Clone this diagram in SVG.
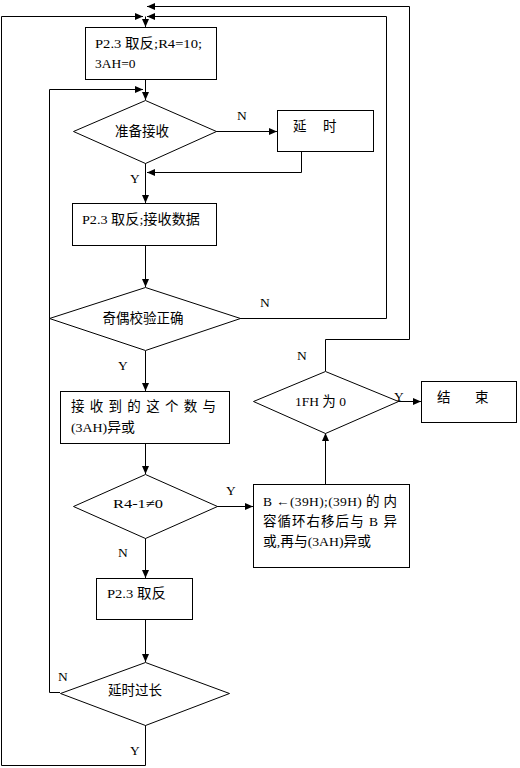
<svg xmlns="http://www.w3.org/2000/svg" width="520" height="768" viewBox="0 0 520 768">
<defs>
<marker id="ah" markerUnits="userSpaceOnUse" markerWidth="8" markerHeight="8" refX="8" refY="4" orient="auto">
<path d="M0,0.5 L8,4 L0,7.5 z" fill="#000"/>
</marker>
<style>
.n{fill:#fff;stroke:#000;stroke-width:1}
.c{fill:none;stroke:#000;stroke-width:1;marker-end:url(#ah)}
.t{font-family:"Liberation Serif","Noto Sans CJK SC",serif;font-size:13.5px;fill:#000}
.l{font-family:"Liberation Serif",serif;font-size:13.5px;fill:#000}
</style>
</defs>
<rect width="520" height="768" fill="#fff"/>
<g id="connectors">
<path class="c" d="M325.5,371 V339.5 H409.5 V6.5 H147"/>
<path class="c" d="M240,318.5 H386.5 V16.5 H147"/>
<path class="c" d="M145.5,725 V765.5 H1.5 V16.5 H143"/>
<path class="c" d="M145.5,16.5 V27"/>
<path class="c" d="M145.5,79 V100"/>
<path class="c" d="M60,692.5 H49.5 V89.5 H143"/>
<path class="c" d="M216,131.5 H277"/>
<path class="c" d="M301.5,151 V172.5 H147"/>
<path class="c" d="M145.5,163 V203"/>
<path class="c" d="M145.5,245 V287"/>
<path class="c" d="M145.5,351 V391"/>
<path class="c" d="M145.5,443 V474"/>
<path class="c" d="M217,506.5 H253"/>
<path class="c" d="M325.5,484 V433"/>
<path class="c" d="M398,401.5 H421"/>
<path class="c" d="M145.5,538 V578"/>
<path class="c" d="M145.5,619 V662"/>
</g>
<g id="labels">
<text class="l" x="237" y="120">N</text>
<text class="l" x="130" y="183">Y</text>
<text class="l" x="260" y="307">N</text>
<text class="l" x="118" y="370">Y</text>
<text class="l" x="297" y="360">N</text>
<text class="l" x="394" y="401">Y</text>
<text class="l" x="226" y="495">Y</text>
<text class="l" x="118" y="557">N</text>
<text class="l" x="58" y="681">N</text>
<text class="l" x="130" y="755">Y</text>
</g>
<g id="n1">
<rect class="n" x="85.5" y="27.5" width="131" height="52"/>
<text class="t" x="95" y="48" textLength="107" lengthAdjust="spacingAndGlyphs">P2.3 取反;R4=10;</text>
<text class="t" x="95" y="68">3AH=0</text>
</g>
<g id="n2">
<path class="n" d="M145.5,100.5 L216.5,131.5 L145.5,163.5 L73.5,131.5 z"/>
<text class="t" x="142" y="136" text-anchor="middle">准备接收</text>
</g>
<g id="n3">
<rect class="n" x="277.5" y="110.5" width="96" height="41"/>
<text class="t" x="293" y="131">延</text>
<text class="t" x="323" y="131">时</text>
</g>
<g id="n4">
<rect class="n" x="72.5" y="203.5" width="144" height="42"/>
<text class="t" x="82" y="224" textLength="118" lengthAdjust="spacingAndGlyphs">P2.3 取反;接收数据</text>
</g>
<g id="n5">
<path class="n" d="M145.5,287.5 L240.5,318.5 L145.5,350.5 L49.5,318.5 z"/>
<text class="t" x="143" y="323" text-anchor="middle">奇偶校验正确</text>
</g>
<g id="n6">
<rect class="n" x="60.5" y="391.5" width="169" height="52"/>
<text class="t" x="71" y="411" textLength="145" lengthAdjust="spacing">接 收 到 的 这 个 数 与</text>
<text class="t" x="71" y="432" textLength="64" lengthAdjust="spacingAndGlyphs">(3AH)异或</text>
</g>
<g id="n7">
<path class="n" d="M325.5,371.5 L398.5,401.5 L325.5,433.5 L253.5,401.5 z"/>
<text class="t" x="295" y="406" textLength="51" lengthAdjust="spacingAndGlyphs">1FH 为 0</text>
</g>
<g id="n8">
<rect class="n" x="421.5" y="381.5" width="95" height="41"/>
<text class="t" x="437" y="402">结</text>
<text class="t" x="475" y="402">束</text>
</g>
<g id="n9">
<path class="n" d="M145.5,474.5 L217.5,506.5 L145.5,538.5 L73.5,506.5 z"/>
<text class="t" x="113" y="508" textLength="50" lengthAdjust="spacingAndGlyphs">R4-1≠0</text>
</g>
<g id="n10">
<rect class="n" x="253.5" y="484.5" width="156" height="83"/>
<text class="t" x="263" y="506" textLength="134" lengthAdjust="spacing">B ←(39H);(39H) 的 内</text>
<text class="t" x="263" y="526" textLength="134" lengthAdjust="spacing">容循环右移后与 B 异</text>
<text class="t" x="263" y="546" textLength="108" lengthAdjust="spacingAndGlyphs">或,再与(3AH)异或</text>
</g>
<g id="n11">
<rect class="n" x="96.5" y="578.5" width="96" height="41"/>
<text class="t" x="107" y="598" textLength="59" lengthAdjust="spacingAndGlyphs">P2.3 取反</text>
</g>
<g id="n12">
<path class="n" d="M145.5,662.5 L229.5,693.5 L145.5,725.5 L60.5,693.5 z"/>
<text class="t" x="135" y="695" text-anchor="middle">延时过长</text>
</g>
</svg>
